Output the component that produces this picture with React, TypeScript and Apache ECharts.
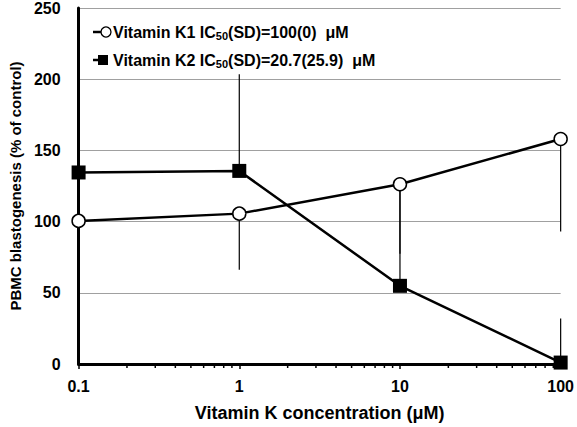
import React, { useEffect, useRef } from "react";
import * as echarts from "echarts";

// Concentrations (µM) on a log axis
const concentrations = [0.1, 1, 10, 100];

// PBMC blastogenesis, % of control
const k1Values = [100.5, 105.6, 126.2, 158.0];
const k2Values = [134.5, 135.6, 54.9, 1.0];

// One-sided SD bars: K1 drawn downward, K2 upward (end values)
const k1ErrEnds = [60, 66.2, 77.5, 93];
const k2ErrEnds = [205, 203.5, 126, 32];

// Minor log ticks between decades
const minorTickValues = [
  0.2, 0.3, 0.4, 0.5, 0.6, 0.7, 0.8, 0.9,
  2, 3, 4, 5, 6, 7, 8, 9,
  20, 30, 40, 50, 60, 70, 80, 90,
];

const yTicks = { min: 0, max: 250, interval: 50 };

// Legend entries: name, IC50 (SD) text
const legendEntries = [
  { name: "Vitamin K1", ic50: "100(0)" },
  { name: "Vitamin K2", ic50: "20.7(25.9)" },
];

const FONT = "'Liberation Sans', Arial, sans-serif";

function errorBarData(values: number[], ends: number[]) {
  return concentrations.map((c, i) => [c, values[i], ends[i]]);
}

function renderErrorBar(params: any, api: any) {
  const x = api.value(0);
  const from = api.coord([x, api.value(1)]);
  const to = api.coord([x, api.value(2)]);
  return {
    type: "line",
    shape: { x1: from[0], y1: from[1], x2: to[0], y2: to[1] },
    style: { stroke: "#000", lineWidth: 1.2 },
  };
}

const legendRich = {
  a: { fontFamily: FONT, fontWeight: "bold", fontSize: 16, fill: "#000", lineHeight: 20 },
  s: {
    fontFamily: FONT,
    fontWeight: "bold",
    fontSize: 11,
    fill: "#000",
    lineHeight: 20,
    padding: [8, 0, 0, 0],
  },
};

function legendGraphic() {
  const rows = [32, 60];
  const out: any[] = [];
  legendEntries.forEach((e, i) => {
    const y = rows[i];
    out.push({
      type: "line",
      shape: { x1: 93, y1: y, x2: 103, y2: y },
      style: { stroke: "#000", lineWidth: 2.5 },
    });
    if (i === 0) {
      out.push({
        type: "circle",
        shape: { cx: 106, cy: y, r: 5 },
        style: { fill: "#fff", stroke: "#000", lineWidth: 1.3 },
      });
    } else {
      out.push({
        type: "rect",
        shape: { x: 98, y: y - 5, width: 10, height: 10 },
        style: { fill: "#000" },
      });
    }
    out.push({
      type: "text",
      x: 113,
      y,
      style: {
        text: `{a|${e.name} IC}{s|50}{a|(SD)=${e.ic50}  μM}`,
        rich: legendRich,
        verticalAlign: "middle",
        align: "left",
      },
    });
  });
  return out;
}

export default function App() {
  const ref = useRef<HTMLDivElement>(null);

  useEffect(() => {
    if (!ref.current) return;
    const chart = echarts.init(ref.current, undefined, { renderer: "svg" });

    chart.setOption({
      animation: false,
      backgroundColor: "#fff",
      grid: { left: 70, right: 11, top: 7, bottom: 60, containLabel: false },
      graphic: legendGraphic(),
      xAxis: {
        type: "log",
        logBase: 10,
        min: 0.1,
        max: 100,
        name: "Vitamin K concentration (μM)",
        nameLocation: "middle",
        nameGap: 40,
        nameTextStyle: { fontFamily: FONT, fontWeight: "bold", fontSize: 18, color: "#000" },
        axisLine: { show: true, lineStyle: { color: "#000", width: 3 } },
        axisTick: { show: true, length: 5, inside: false, lineStyle: { color: "#000", width: 1.5 } },
        axisLabel: {
          fontFamily: FONT,
          fontWeight: "bold",
          fontSize: 16,
          color: "#000",
          margin: 14,
          formatter: (v: number) => String(v),
        },
        splitLine: { show: false },
      },
      yAxis: {
        type: "value",
        min: yTicks.min,
        max: yTicks.max,
        interval: yTicks.interval,
        name: "PBMC blastogenesis (% of control)",
        nameLocation: "middle",
        nameGap: 53,
        nameTextStyle: { fontFamily: FONT, fontWeight: "bold", fontSize: 15, color: "#000" },
        axisLine: { show: true, lineStyle: { color: "#000", width: 3 } },
        axisTick: { show: false },
        axisLabel: {
          fontFamily: FONT,
          fontWeight: "bold",
          fontSize: 16,
          color: "#000",
          margin: 18,
        },
        splitLine: { show: true, lineStyle: { color: "#a0a0a0", width: 1 } },
      },
      series: [
        {
          name: "minorTicks",
          type: "custom",
          clip: false,
          silent: true,
          data: minorTickValues.map((v) => [v, 0]),
          encode: { x: 0, y: 1 },
          renderItem: (params: any, api: any) => {
            const p = api.coord([api.value(0), 0]);
            return {
              type: "line",
              shape: { x1: p[0], y1: p[1], x2: p[0], y2: p[1] + 4 },
              style: { stroke: "#000", lineWidth: 1.5 },
            };
          },
          z: 1,
        },
        {
          name: "k1Err",
          type: "custom",
          clip: false,
          silent: true,
          data: errorBarData(k1Values, k1ErrEnds),
          encode: { x: 0, y: [1, 2] },
          renderItem: renderErrorBar,
          z: 2,
        },
        {
          name: "k2Err",
          type: "custom",
          clip: false,
          silent: true,
          data: errorBarData(k2Values, k2ErrEnds),
          encode: { x: 0, y: [1, 2] },
          renderItem: renderErrorBar,
          z: 2,
        },
        {
          name: "Vitamin K1",
          type: "line",
          data: concentrations.map((c, i) => [c, k1Values[i]]),
          symbol: "circle",
          symbolSize: 13,
          showAllSymbol: true,
          clip: false,
          lineStyle: { color: "#000", width: 2.5 },
          itemStyle: { color: "#fff", borderColor: "#000", borderWidth: 1.5 },
          z: 3,
        },
        {
          name: "Vitamin K2",
          type: "line",
          data: concentrations.map((c, i) => [c, k2Values[i]]),
          symbol: "rect",
          symbolSize: 14,
          showAllSymbol: true,
          clip: false,
          lineStyle: { color: "#000", width: 2.5 },
          itemStyle: { color: "#000", borderColor: "#000", borderWidth: 0 },
          z: 4,
        },
      ],
    });

    return () => chart.dispose();
  }, []);

  return (
    <div
      ref={ref}
      style={{ position: "fixed", left: 0, top: 0, width: 577, height: 427, background: "#fff" }}
    />
  );
}
